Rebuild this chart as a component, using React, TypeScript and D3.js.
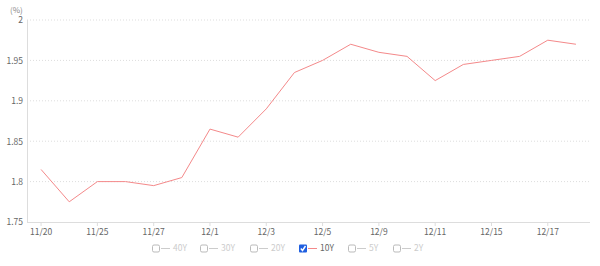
import React from "react";
import * as d3 from "d3";

const dates = ["11/20","11/22","11/25","11/26","11/27","11/29","12/1","12/2","12/3","12/4","12/5","12/8","12/9","12/10","12/11","12/12","12/15","12/16","12/17","12/18"];
const labeled = ["11/20","11/25","11/27","12/1","12/3","12/5","12/9","12/11","12/15","12/17"];
const values10Y = [1.815,1.775,1.8,1.8,1.795,1.805,1.865,1.855,1.89,1.935,1.95,1.97,1.96,1.955,1.925,1.945,1.95,1.955,1.975,1.97];
const yTicks = [1.75,1.8,1.85,1.9,1.95,2];
const legendItems = [
  { name: "40Y", checked: false },
  { name: "30Y", checked: false },
  { name: "20Y", checked: false },
  { name: "10Y", checked: true },
  { name: "5Y", checked: false },
  { name: "2Y", checked: false },
];
const legendX = [152, 200, 250, 299, 348, 393];

const W = 600, H = 266;
const left = 27, right = 590, top = 20, bottom = 222;
const font = "'Noto Sans CJK JP', 'Noto Sans', sans-serif";
const lineColor = "#f4898a";

export default function App() {
  const x = d3.scalePoint<string>().domain(dates).range([left, right]).padding(0.5);
  const y = d3.scaleLinear().domain([1.75, 2]).range([bottom, top]);
  const line = d3.line<number>().x((_, i) => x(dates[i])!).y(d => y(d));
  return (
    <svg width={W} height={H} style={{ position: "absolute", left: 0, top: 0 }} fontFamily={font}>
      <text x={10} y={13} fontSize={8} fill="#888">(%)</text>
      {yTicks.map(t => (
        <g key={t}>
          {t !== 1.75 && (
            <line x1={left} x2={right} y1={y(t)} y2={y(t)} stroke="#ddd" strokeWidth={1} strokeDasharray="1,2" />
          )}
          <text x={left - 4} y={y(t) + 0.5} dy="0.35em" textAnchor="end" fontSize={8.5} fill="#666">{String(t)}</text>
        </g>
      ))}
      <line x1={left + 0.5} x2={left + 0.5} y1={top} y2={bottom} stroke="#ddd" />
      <line x1={left} x2={right} y1={bottom + 0.5} y2={bottom + 0.5} stroke="#ddd" />
      {labeled.map(d => (
        <g key={d}>
          <line x1={x(d)!} x2={x(d)!} y1={bottom} y2={bottom + 4} stroke="#ddd" />
          <text x={x(d)!} y={bottom + 13} textAnchor="middle" fontSize={8.5} fill="#666">{d}</text>
        </g>
      ))}
      <path d={line(values10Y) || ""} fill="none" stroke={lineColor} strokeWidth={1} />
      {legendItems.map((it, i) => {
        const lx = legendX[i];
        const cy = 248.5;
        return (
          <g key={it.name}>
            {it.checked ? (
              <g>
                <rect x={lx} y={cy - 4} width={8} height={8} rx={1} fill="#1f5fe0" />
                <path d={`M${lx + 1.8},${cy} L${lx + 3.5},${cy + 2} L${lx + 6.5},${cy - 2.5}`} stroke="#fff" strokeWidth={1.4} fill="none" />
              </g>
            ) : (
              <rect x={lx + 0.5} y={cy - 3.5} width={7} height={7} rx={1.5} fill="#fff" stroke="#bbb" strokeWidth={1} />
            )}
            <line x1={lx + 9} x2={lx + 18} y1={cy} y2={cy} stroke={it.checked ? lineColor : "#ccc"} strokeWidth={1} />
            <text x={lx + 21} y={cy} dy="0.35em" fontSize={8.5} fill={it.checked ? "#666" : "#ccc"}>{it.name}</text>
          </g>
        );
      })}
    </svg>
  );
}
